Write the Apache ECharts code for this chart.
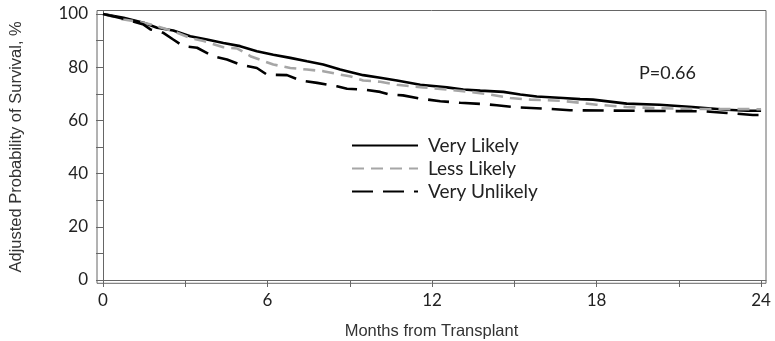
<!DOCTYPE html>
<html>
<head>
<meta charset="utf-8">
<script src="https://cdn.jsdelivr.net/npm/echarts@6/dist/echarts.min.js"></script>
<style>
  html, body { margin: 0; padding: 0; background: #fff; }
  #chart { width: 775px; height: 341px; }
</style>
</head>
<body>
<div id="chart"></div>
<script>
// Adjusted survival after transplant, by recipient likelihood group
const seriesNames = ['Very Likely', 'Less Likely', 'Very Unlikely'];

// [month, adjusted survival %]
const veryLikely = [
  [0, 100], [0.75, 98.6], [1.48, 96.7], [1.97, 94.8], [2.56, 93.8], [3.18, 91.6],
  [3.79, 90.4], [4.39, 89.1], [5.0, 87.9], [5.61, 86.0], [6.21, 84.7], [6.83, 83.5],
  [7.44, 82.2], [8.03, 81.0], [8.65, 79.1], [8.9, 78.5], [9.49, 77.0], [10.11, 76.0],
  [10.72, 75.0], [11.57, 73.4], [12.54, 72.4], [13.14, 71.6], [13.76, 71.2], [14.6, 70.7],
  [15.22, 69.7], [15.82, 69.0], [16.78, 68.4], [17.4, 68.0], [17.87, 67.8], [19.1, 66.3],
  [20.3, 65.9], [21.5, 65.0], [22.75, 64.0], [23.5, 63.6], [24.0, 63.6]
];
const lessLikely = [
  [0, 100], [0.75, 97.9], [1.48, 96.7], [1.97, 95.4], [2.56, 93.5], [3.18, 91.0],
  [3.67, 89.8], [4.39, 87.5], [4.9, 87.0], [5.4, 84.0], [6.21, 81.0], [6.83, 79.7],
  [7.44, 79.1], [8.03, 78.5], [8.65, 77.2], [9.0, 76.6], [9.49, 75.0], [10.11, 74.5],
  [10.72, 73.4], [11.67, 72.4], [12.54, 71.6], [13.4, 70.7], [14.0, 69.9], [14.85, 68.4],
  [15.6, 67.8], [16.67, 67.4], [17.4, 66.6], [18.0, 65.9], [19.1, 65.0], [20.3, 64.6],
  [21.5, 64.3], [24.0, 64.2]
];
const veryUnlikely = [
  [0, 100], [0.75, 98.2], [1.48, 96.0], [1.73, 94.2], [2.2, 92.9], [2.56, 90.4],
  [2.93, 87.9], [3.43, 87.3], [4.02, 84.1], [4.52, 82.9], [5.0, 81.0], [5.61, 79.7],
  [5.98, 77.2], [6.71, 77.0], [7.2, 75.0], [7.81, 74.1], [8.53, 72.8], [8.9, 71.9],
  [9.49, 71.6], [10.11, 70.7], [10.47, 69.7], [10.94, 69.4], [11.57, 68.2], [12.3, 67.2],
  [13.03, 66.6], [13.76, 66.2], [14.36, 65.7], [15.09, 64.9], [16.19, 64.4], [17.03, 63.8],
  [21.9, 63.4], [22.75, 62.8], [23.7, 62.0], [24.0, 62.0]
];

const xLabelValues = [0, 6, 12, 18, 24];
const xTickValues = [0, 3, 6, 9, 12, 15, 18, 21, 24];
const yLabelValues = [0, 20, 40, 60, 80, 100];
const yTickValues = [0, 10, 20, 30, 40, 50, 60, 70, 80, 90, 100];
const pValueText = 'P=0.66';

const tickFont = 'Lato, "Open Sans", sans-serif';
const titleFont = '"Liberation Sans Narrow", "Liberation Sans", Arial, sans-serif';

const chart = echarts.init(document.getElementById('chart'), null, { renderer: 'canvas' });

function survivalSeries(name, data, color, type) {
  return {
    name: name,
    type: 'line',
    data: data,
    symbol: 'none',
    showSymbol: false,
    animation: false,
    lineStyle: { color: color, width: 2.6, type: type },
    itemStyle: { color: color }
  };
}

chart.setOption({
  animation: false,
  backgroundColor: '#ffffff',
  title: {
    text: pValueText,
    left: 634,
    top: 59,
    textStyle: { fontFamily: tickFont, fontSize: 18, fontWeight: 'normal', color: '#222' }
  },
  legend: {
    orient: 'vertical',
    left: 346,
    top: 131,
    itemWidth: 66,
    itemHeight: 18,
    itemGap: 4,
    data: seriesNames,
    itemStyle: { opacity: 0 },
    textStyle: { fontFamily: tickFont, fontSize: 19, color: '#222', padding: [0, 0, 0, 5] }
  },
  grid: {
    left: 97,
    right: 9,
    top: 10.5,
    bottom: 57.7,
    outerBoundsMode: 'none',
    containLabel: false,
    show: true,
    borderColor: '#666',
    borderWidth: 1,
    backgroundColor: '#fff'
  },
  xAxis: {
    type: 'value',
    min: -0.22,
    max: 24.18,
    name: 'Months from Transplant',
    nameLocation: 'middle',
    nameGap: 40,
    nameTextStyle: { fontFamily: titleFont, fontSize: 16.5, color: '#333' },
    axisLine: { show: true, lineStyle: { color: '#666', width: 1 } },
    axisTick: { show: true, length: 7, customValues: xTickValues, lineStyle: { color: '#666' } },
    axisLabel: { customValues: xLabelValues, margin: 9, fontFamily: tickFont, fontSize: 17, color: '#222' },
    splitLine: { show: false }
  },
  yAxis: {
    type: 'value',
    min: -1.24,
    max: 101.3,
    name: 'Adjusted Probability of Survival, %',
    nameLocation: 'middle',
    nameGap: 72,
    nameTextStyle: { fontFamily: titleFont, fontSize: 16.5, color: '#333' },
    axisLine: { show: true, lineStyle: { color: '#666', width: 1 } },
    axisTick: { show: true, length: 7, customValues: yTickValues, lineStyle: { color: '#666' } },
    axisLabel: { customValues: yLabelValues, margin: 9, fontFamily: tickFont, fontSize: 17, color: '#222' },
    splitLine: { show: false }
  },
  series: [
    survivalSeries(seriesNames[0], veryLikely, '#000000', 'solid'),
    survivalSeries(seriesNames[1], lessLikely, '#a6a6a6', [12, 7]),
    survivalSeries(seriesNames[2], veryUnlikely, '#000000', [21, 10])
  ]
});
</script>
</body>
</html>
